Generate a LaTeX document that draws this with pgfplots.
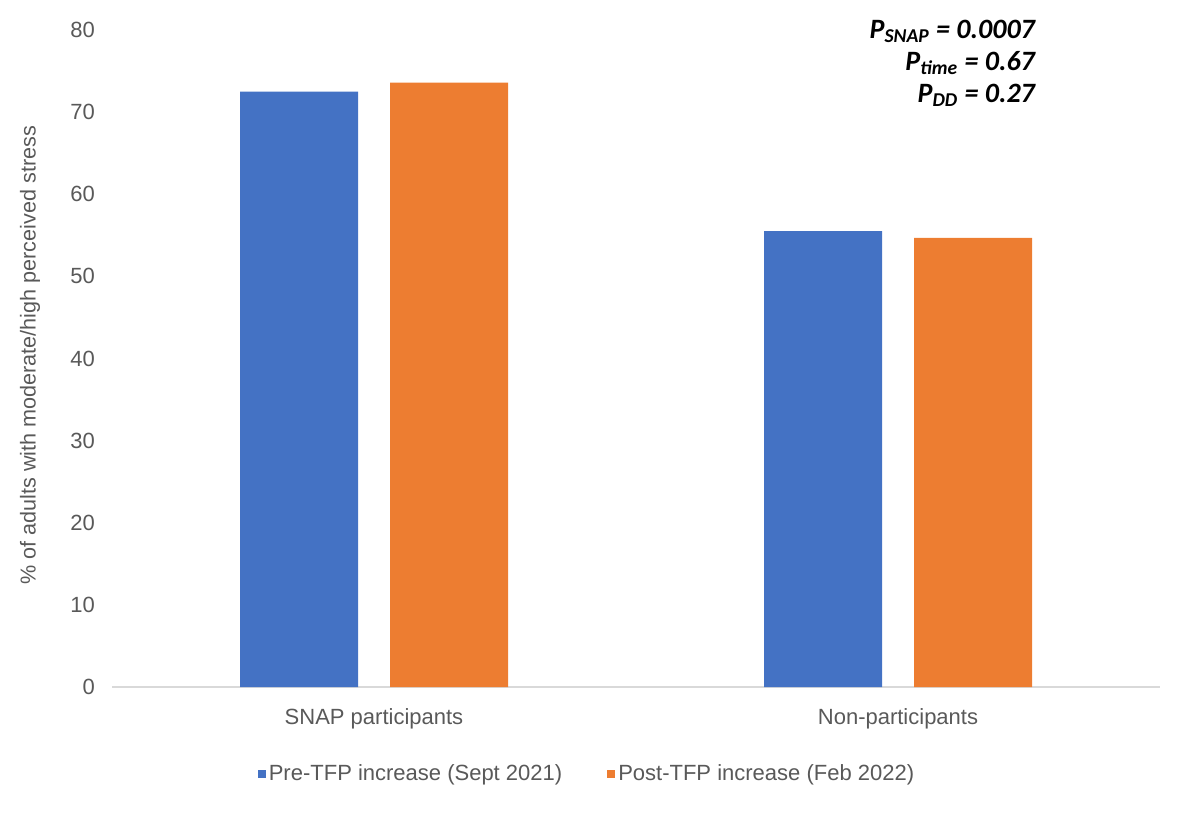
\documentclass[border=0pt]{standalone}
\usepackage{pgfplots}
\pgfplotsset{compat=1.18}
\usepackage{fontspec}
\setmainfont{Liberation Sans}
\newfontfamily\carlito{Carlito}
\definecolor{barblue}{HTML}{4472C4}
\definecolor{barorange}{HTML}{ED7D31}
\definecolor{txtgrey}{HTML}{595959}
\definecolor{axgrey}{HTML}{D9D9D9}
\begin{document}
\begin{tikzpicture}
\path[use as bounding box] (0,0) rectangle (590.5pt,407pt);
\begin{axis}[
  at={(56pt,63.5pt)}, anchor=south west,
  scale only axis, width=524pt, height=328.5pt,
  ybar=16pt, bar width=59pt,
  xmin=-0.5, xmax=1.5, ymin=0, ymax=80,
  xtick={0,1}, xticklabels={SNAP participants, Non-participants},
  ytick={0,10,...,80},
  separate axis lines,
  axis x line*=bottom, axis y line*=left,
  x axis line style={draw=axgrey, line width=0.8pt, -},
  y axis line style={draw=none},
  major tick length=0pt,
  /pgf/number format/assume math mode=true,
  tick label style={font=\fontsize{11}{13}\selectfont, text=txtgrey},
  yticklabel style={xshift=-5pt},
  xticklabel style={yshift=-7pt},
  ylabel={\% of adults with moderate/high perceived stress},
  every axis y label/.style={at={(axis description cs:-0.0782,0.505)}, rotate=90, anchor=center,
    font=\fontsize{10.8}{12}\selectfont, text=txtgrey},
  legend style={at={(0.4537,-0.133)}, anchor=center, draw=none, legend columns=2,
    font=\fontsize{11}{13}\selectfont, text=txtgrey,
    /tikz/every even column/.append style={column sep=21pt},
    nodes={inner xsep=1.5pt}},
  legend image code/.code={\fill[#1] (0pt,-2pt) rectangle (4pt,2pt);},
  clip=false,
]
\addplot[fill=barblue, draw=none] coordinates {(0,72.5) (1,55.5)};
\addplot[fill=barorange, draw=none] coordinates {(0,73.6) (1,54.7)};
\legend{Pre-TFP increase (Sept 2021), Post-TFP increase (Feb 2022)}
\node[anchor=north east, align=right, inner sep=0pt, font=\carlito\bfseries\itshape\fontsize{14}{16}\selectfont]
  at (rel axis cs:0.881,1.016)
  {P\textsubscript{SNAP} = 0.0007\\P\textsubscript{time} = 0.67\\P\textsubscript{DD} = 0.27};
\end{axis}
\end{tikzpicture}
\end{document}
